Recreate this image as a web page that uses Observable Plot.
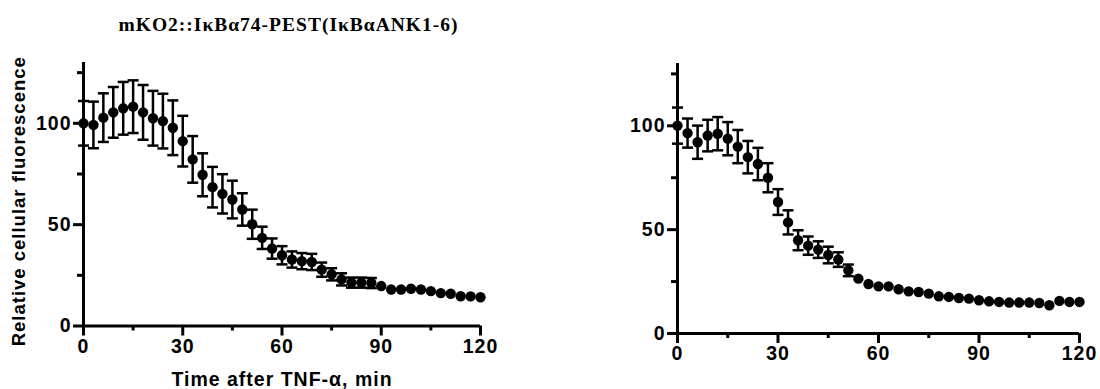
<!DOCTYPE html>
<html><head><meta charset="utf-8">
<script src="https://cdn.jsdelivr.net/npm/d3@7"></script>
<script src="https://cdn.jsdelivr.net/npm/@observablehq/plot@0.6"></script>
<style>
body{margin:0;background:#fff}
#wrap{position:relative;width:1100px;height:389px;overflow:hidden}
#left,#right{position:absolute;top:0}
#left{left:0}
#right{left:600px}
</style>
</head><body>
<div id="wrap"><div id="left"></div><div id="right"></div></div>
<script>
const titleText = "mKO2::IκBα74-PEST(IκBαANK1-6)";
const xLabelText = "Time after TNF-α, min";
const yLabelText = "Relative cellular fluorescence";

const timeMin = [0,3,6,9,12,15,18,21,24,27,30,33,36,39,42,45,48,51,54,57,60,63,66,69,72,75,78,81,84,87,90,93,96,99,102,105,108,111,114,117,120];

const leftMean = [100,99.2,102.8,105.4,107.4,108.2,105.4,102.5,101.1,97.8,91.2,82.2,74.6,68.5,65.2,62.4,57.5,50.2,43.5,38.2,34.9,32.8,32,31.6,27.8,25.5,23,21.4,21.4,21.2,19.7,18,18,18.4,18,17.2,16.2,15.9,14.7,14.6,14.2];
const leftErr = [11,11.5,12,12.5,13,13,13.5,13.5,13.5,13.5,12.5,11.5,10.6,10,9.7,9.3,8,7.2,5.5,5,4.5,4,4,4,3.5,3,3,2.5,2.5,2.5,0,0,0,0,0,0,0,0,0,0,0];

const rightMean = [100.1,96.5,92.1,95.3,96.2,93.8,90,84.9,81.6,75,63.3,53.5,44.9,42.3,40.4,37.8,35.6,30.4,26.4,23.8,22.7,22.7,21.3,20.3,20,19.2,17.9,17.6,17.1,16.8,16,15.5,15.2,14.9,14.9,14.9,14.7,13.6,15.7,15.2,15.2];
const rightErr = [8.7,7,8,7.6,8,8,8,7.8,7.8,7,6.2,5.8,4.8,4.4,4,4,3.5,2.8,0,0,0,0,0,0,0,0,0,0,0,0,0,0,0,0,0,0,0,0,0,0,0];

const majorX = [0,30,60,90,120];
const minorX = [15,45,75,105];
const majorY = [0,50,100];
const minorY = [25,75,125];

const cap = {draw(ctx){ ctx.moveTo(-5.5,0); ctx.lineTo(5.5,0); }};

function panel({mean, err, m, labels}) {
  const data = timeMin.map((t,i)=>({t, v: mean[i], e: err[i]}));
  const eb = data.filter(d=>d.e>0);
  const marks = [
    Plot.ruleX([0], {strokeWidth:3}),
    Plot.ruleY([0], {strokeWidth:3}),
    Plot.axisY({ticks:majorY, tickSize:10, tickPadding:2, strokeWidth:3, fontSize:19.5, fontWeight:"bold", label:null}),
    Plot.axisY({ticks:minorY, tickSize:6, text:null, strokeWidth:3, label:null}),
    Plot.axisX({ticks:majorX, tickSize:10, tickPadding:3, strokeWidth:3, fontSize:19.5, fontWeight:"bold", label:null}),
    Plot.axisX({ticks:minorX, tickSize:5, text:null, strokeWidth:3, label:null}),
    Plot.ruleX(eb, {x:"t", y1:d=>d.v-d.e, y2:d=>d.v+d.e, strokeWidth:2.5}),
    Plot.dot(eb, {x:"t", y:d=>d.v+d.e, symbol:cap, fill:"none", stroke:"black", strokeWidth:2.5}),
    Plot.dot(eb, {x:"t", y:d=>d.v-d.e, symbol:cap, fill:"none", stroke:"black", strokeWidth:2.5}),
    Plot.dot(data, {x:"t", y:"v", r:5.2, fill:"black"})
  ];
  if (labels) {
    marks.push(
      Plot.text([titleText], {text:d=>d, frameAnchor:"top", lineAnchor:"bottom", dx:6.5, dy:-32, fontFamily:"Liberation Serif", fontSize:19.5, fontWeight:"bold"}),
      Plot.text([xLabelText], {text:d=>d, frameAnchor:"bottom", lineAnchor:"bottom", dy:60, fontSize:19.5, fontWeight:"bold"}),
      Plot.text([yLabelText], {text:d=>d, frameAnchor:"left", rotate:-90, textAnchor:"middle", lineAnchor:"middle", dx:-64, dy:7, fontSize:18.5, fontWeight:"bold"})
    );
  }
  return Plot.plot({
    width:500, height:389,
    marginLeft:m[0], marginRight:m[1], marginTop:m[2], marginBottom:m[3],
    x:{domain:[0,120]},
    y:{domain:[0,130]},
    style:{fontFamily:"Liberation Sans, Arial, sans-serif", fontWeight:"bold", color:"black", background:"white", overflow:"visible", letterSpacing:"1px"},
    marks
  });
}

document.getElementById("left").append(panel({mean:leftMean, err:leftErr, m:[83,20,62,63.5], labels:true}));
document.getElementById("right").append(panel({mean:rightMean, err:rightErr, m:[77,21,63,56], labels:false}));
</script>
</body></html>
